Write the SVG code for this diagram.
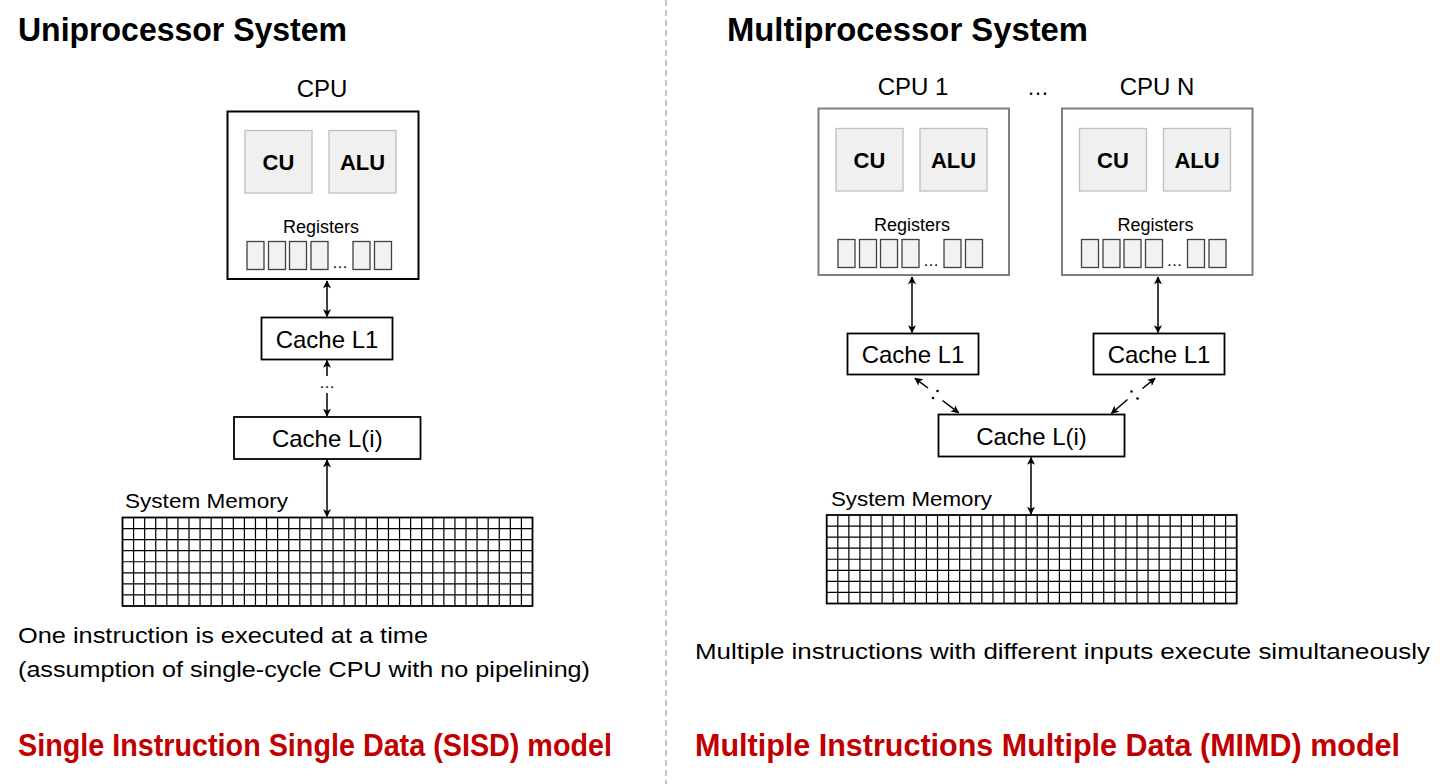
<svg xmlns="http://www.w3.org/2000/svg" xmlns:xlink="http://www.w3.org/1999/xlink" width="1456" height="784" viewBox="0 0 1456 784">
<style>
text{font-family:"Liberation Sans",Arial,sans-serif;fill:#000}
.title{font-size:34px;font-weight:bold}
.lbl{font-size:24px;text-anchor:middle}
.unit{font-size:22px;font-weight:bold;text-anchor:middle}
.reg{font-size:18px;text-anchor:middle}
.body{font-size:22.5px}
.model{font-size:31px;font-weight:bold;fill:#C00000}
.cpu1{fill:#fff;stroke:#000;stroke-width:2}
.cpu2{fill:#fff;stroke:#808080;stroke-width:2}
.box{fill:#fff;stroke:#000;stroke-width:1.8}
.cu{fill:#f0f0f0;stroke:#bfbfbf;stroke-width:1.3}
.rg{fill:#f2f2f2;stroke:#404040;stroke-width:1.3}
.con{fill:none;stroke:#000;stroke-width:1.5}
.grid{fill:none;stroke:#000;stroke-width:1.2}
</style>
<defs>
<marker id="ah" viewBox="0 0 10 10" refX="9" refY="5" markerWidth="9" markerHeight="8" orient="auto-start-reverse" markerUnits="userSpaceOnUse">
<path d="M0,0 L10,5 L0,10 L2.5,5 z" fill="#000"/>
</marker>
<g id="memgrid">
<rect x="0" y="0" width="410" height="88.5" fill="#fff" stroke="#000" stroke-width="1.8"/>
<path class="grid" d="M11.08,0V88.5M22.16,0V88.5M33.24,0V88.5M44.32,0V88.5M55.41,0V88.5M66.49,0V88.5M77.57,0V88.5M88.65,0V88.5M99.73,0V88.5M110.81,0V88.5M121.89,0V88.5M132.97,0V88.5M144.05,0V88.5M155.14,0V88.5M166.22,0V88.5M177.3,0V88.5M188.38,0V88.5M199.46,0V88.5M210.54,0V88.5M221.62,0V88.5M232.7,0V88.5M243.78,0V88.5M254.86,0V88.5M265.95,0V88.5M277.03,0V88.5M288.11,0V88.5M299.19,0V88.5M310.27,0V88.5M321.35,0V88.5M332.43,0V88.5M343.51,0V88.5M354.59,0V88.5M365.68,0V88.5M376.76,0V88.5M387.84,0V88.5M398.92,0V88.5M0,11.06H410M0,22.13H410M0,33.19H410M0,44.25H410M0,55.31H410M0,66.38H410M0,77.44H410"/>
</g>
<g id="cpuinner">
<rect class="cu" x="0" y="0" width="67" height="62.5"/>
<rect class="cu" x="84" y="0" width="67" height="62.5"/>
<text class="unit" x="33.5" y="39.5">CU</text>
<text class="unit" x="117.5" y="39.5">ALU</text>
<text class="reg" x="76" y="102.5">Registers</text>
<rect class="rg" x="2" y="111" width="17" height="28"/>
<rect class="rg" x="23.5" y="111" width="17" height="28"/>
<rect class="rg" x="44.5" y="111" width="17" height="28"/>
<rect class="rg" x="66" y="111" width="17" height="28"/>
<text x="95" y="137" style="font-size:16px;text-anchor:middle">…</text>
<rect class="rg" x="108" y="111" width="17" height="28"/>
<rect class="rg" x="129.5" y="111" width="17" height="28"/>
</g>
</defs>
<rect width="1456" height="784" fill="#fff"/>
<line x1="666" y1="0" x2="666" y2="784" stroke="#a6a6a6" stroke-width="1.3" stroke-dasharray="6,4"/>

<g id="titles">
<text class="title" x="18" y="41" textLength="329" lengthAdjust="spacingAndGlyphs">Uniprocessor System</text>
<text class="title" x="727" y="41" textLength="361" lengthAdjust="spacingAndGlyphs">Multiprocessor System</text>
</g>

<!-- Uniprocessor side -->
<g id="cpu">
<text class="lbl" x="322" y="97">CPU</text>
<rect class="cpu1" x="227.5" y="111.5" width="191" height="167.5"/>
<use xlink:href="#cpuinner" href="#cpuinner" transform="translate(245,130.5)"/>
</g>
<g id="cacheL1-left">
<rect class="box" x="261.5" y="317.5" width="131" height="42"/>
<text class="lbl" x="327" y="348">Cache L1</text>
</g>
<g id="cacheLi-left">
<rect class="box" x="234" y="417" width="186.5" height="42"/>
<text class="lbl" x="327.3" y="447">Cache L(i)</text>
</g>
<g id="memory-left">
<text x="125" y="508" style="font-size:21px" textLength="163" lengthAdjust="spacingAndGlyphs">System Memory</text>
<use xlink:href="#memgrid" href="#memgrid" transform="translate(122.5,517.5)"/>
</g>

<!-- Multiprocessor side -->
<g id="cpu1">
<text class="lbl" x="913" y="95">CPU 1</text>
<rect class="cpu2" x="818.5" y="108.5" width="190.5" height="166.5"/>
<use xlink:href="#cpuinner" href="#cpuinner" transform="translate(836,128.5)"/>
</g>
<g id="cpu-ellipsis">
<text x="1038" y="95" style="font-size:22px;text-anchor:middle">…</text>
</g>
<g id="cpuN">
<text class="lbl" x="1157" y="95">CPU N</text>
<rect class="cpu2" x="1062" y="108.5" width="190.5" height="166.5"/>
<use xlink:href="#cpuinner" href="#cpuinner" transform="translate(1079.5,128.5)"/>
</g>
<g id="cacheL1-a">
<rect class="box" x="847.5" y="333.5" width="131" height="41"/>
<text class="lbl" x="913" y="363">Cache L1</text>
</g>
<g id="cacheL1-b">
<rect class="box" x="1093.5" y="333.5" width="131" height="41"/>
<text class="lbl" x="1159" y="363">Cache L1</text>
</g>
<g id="cacheLi-right">
<rect class="box" x="938.5" y="414.5" width="186" height="42"/>
<text class="lbl" x="1031.5" y="445">Cache L(i)</text>
</g>
<g id="memory-right">
<text x="831" y="506" style="font-size:21px" textLength="161" lengthAdjust="spacingAndGlyphs">System Memory</text>
<use xlink:href="#memgrid" href="#memgrid" transform="translate(826.7,515)"/>
</g>

<g id="connectors">
<line class="con" x1="327" y1="281" x2="327" y2="316.5" marker-start="url(#ah)" marker-end="url(#ah)"/>
<line class="con" x1="327" y1="376" x2="327" y2="360.5" marker-end="url(#ah)"/>
<text x="327" y="388" style="font-size:16px;text-anchor:middle">…</text>
<line class="con" x1="327" y1="393" x2="327" y2="416" marker-end="url(#ah)"/>
<line class="con" x1="327" y1="460" x2="327" y2="516.5" marker-start="url(#ah)" marker-end="url(#ah)"/>

<line class="con" x1="912" y1="277" x2="912" y2="332.5" marker-start="url(#ah)" marker-end="url(#ah)"/>
<line class="con" x1="1158" y1="277" x2="1158" y2="332.5" marker-start="url(#ah)" marker-end="url(#ah)"/>
<line class="con" x1="1031" y1="457.5" x2="1031" y2="514" marker-start="url(#ah)" marker-end="url(#ah)"/>

<line class="con" x1="928" y1="388" x2="915" y2="378.3" marker-end="url(#ah)"/>
<circle cx="937.5" cy="391" r="1.3" fill="#000"/>
<circle cx="933" cy="398" r="1.3" fill="#000"/>
<line class="con" x1="942.5" y1="400.5" x2="958.5" y2="412.7" marker-end="url(#ah)"/>

<line class="con" x1="1142.5" y1="388.5" x2="1155" y2="378.3" marker-end="url(#ah)"/>
<circle cx="1131.5" cy="391.5" r="1.3" fill="#000"/>
<circle cx="1137.5" cy="398.5" r="1.3" fill="#000"/>
<line class="con" x1="1127.5" y1="399.5" x2="1111.5" y2="413.3" marker-end="url(#ah)"/>
</g>

<g id="captions">
<text class="body" x="18" y="643" textLength="410" lengthAdjust="spacingAndGlyphs">One instruction is executed at a time</text>
<text class="body" x="18" y="677" textLength="572" lengthAdjust="spacingAndGlyphs">(assumption of single-cycle CPU with no pipelining)</text>
<text class="model" x="18" y="756" textLength="594" lengthAdjust="spacingAndGlyphs">Single Instruction Single Data (SISD) model</text>
<text class="body" x="695" y="659" textLength="735" lengthAdjust="spacingAndGlyphs">Multiple instructions with different inputs execute simultaneously</text>
<text class="model" x="695" y="756" textLength="705" lengthAdjust="spacingAndGlyphs">Multiple Instructions Multiple Data (MIMD) model</text>
</g>
</svg>
